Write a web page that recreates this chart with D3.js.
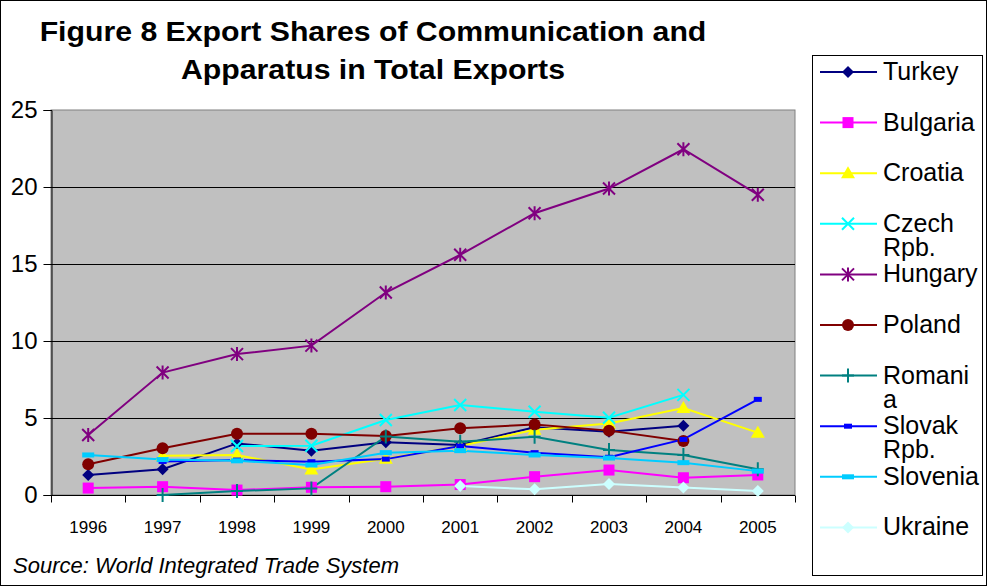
<!DOCTYPE html>
<html><head><meta charset="utf-8">
<script src="https://cdn.jsdelivr.net/npm/d3@7"></script>
<style>body{margin:0;background:#fff}svg{display:block}</style>
</head><body>
<svg id="c" width="987" height="587"></svg>
<script>
const years = ["1996","1997","1998","1999","2000","2001","2002","2003","2004","2005"];
const yTicks = [0,5,10,15,20,25];
const seriesNames = ["Turkey","Bulgaria","Croatia","Czech Rpb.","Hungary","Poland","Romania","Slovak Rpb.","Slovenia","Ukraine"];
const turkey   = [1.3,1.67,3.35,2.88,3.42,3.25,4.4,4.1,4.5,null];
const bulgaria = [0.45,0.54,0.32,0.5,0.54,0.68,1.19,1.62,1.12,1.3];
const croatia  = [null,2.55,2.6,1.65,2.35,3.18,4.24,4.65,5.65,4.05];
const czech    = [null,null,3.18,3.2,4.87,5.84,5.41,5.02,6.5,null];
const hungary  = [3.9,7.95,9.15,9.7,13.15,15.6,18.3,19.9,22.45,19.5];
const poland   = [2.0,3.03,3.98,3.98,3.83,4.33,4.58,4.18,3.51,null];
const romania  = [null,0.0,0.26,0.43,3.8,3.46,3.78,2.92,2.6,1.67];
const slovak   = [null,2.18,2.27,2.16,2.33,3.18,2.75,2.45,3.61,6.21];
const slovenia = [2.6,2.3,2.22,1.95,2.75,2.88,2.6,2.4,2.1,1.55];
const ukraine  = [null,null,null,null,null,0.58,0.37,0.71,0.48,0.26];
const seriesValues = [turkey,bulgaria,croatia,czech,hungary,poland,romania,slovak,slovenia,ukraine];
const colors = ["#000080","#FF00FF","#FFFF00","#00FFFF","#800080","#800000","#008080","#0000FF","#00CCFF","#CCFFFF"];
const markers = ["diamond","square","triangle","x","star","circle","plus","dash","wdash","diamond"];
const legendLines = [["Turkey"],["Bulgaria"],["Croatia"],["Czech","Rpb."],["Hungary"],["Poland"],["Romani","a"],["Slovak","Rpb."],["Slovenia"],["Ukraine"]];

const svg = d3.select("#c");
const L=51,R=795,T=110,B=495;
const x = d3.scaleBand().domain(years).range([L,R]).padding(0);
const y = d3.scaleLinear().domain([0,25]).range([B,T]);
const cx = d => x(d)+x.bandwidth()/2;
const FONT = "Liberation Sans, Arial, sans-serif";

svg.append("rect").attr("x",0.5).attr("y",0.5).attr("width",986).attr("height",585)
  .attr("fill","#fff").attr("stroke","#000");

// title
const title = svg.append("g").attr("transform","translate(373,0) scale(1.08,1)")
  .append("text").attr("font-family",FONT)
  .attr("font-weight","bold").attr("font-size",28).attr("text-anchor","middle").attr("fill","#000");
title.append("tspan").attr("x",0).attr("y",41).text("Figure 8 Export Shares of Communication and");
title.append("tspan").attr("x",0).attr("y",79).text("Apparatus in Total Exports");

// plot area
svg.append("rect").attr("x",L).attr("y",T).attr("width",R-L).attr("height",B-T)
  .attr("fill","#C0C0C0").attr("stroke","#808080").attr("stroke-width",1);
svg.append("g").selectAll("line").data(yTicks.filter(v=>v>0&&v<25)).join("line")
  .attr("x1",L).attr("x2",R).attr("y1",d=>Math.round(y(d))+0.5).attr("y2",d=>Math.round(y(d))+0.5)
  .attr("stroke","#000").attr("stroke-width",1);

// y axis
const ya = svg.append("g").attr("transform",`translate(${L+0.5},0)`)
  .call(d3.axisLeft(y).tickValues(yTicks).tickSize(8).tickPadding(6).tickFormat(d3.format("d")));
ya.select(".domain").attr("stroke","#000");
ya.selectAll(".tick line").attr("stroke","#000");
ya.selectAll("text").attr("font-family",FONT).attr("font-size",24).attr("fill","#000");

// x axis
const xa = svg.append("g").attr("transform",`translate(0,${B+0.5})`);
xa.append("line").attr("x1",L).attr("x2",R).attr("stroke","#000");
const bounds = d3.range(years.length+1).map(i=>L+i*x.bandwidth());
xa.selectAll("line.t").data(bounds).join("line").attr("class","t")
  .attr("x1",d=>Math.round(d)+0.5).attr("x2",d=>Math.round(d)+0.5).attr("y1",0).attr("y2",7).attr("stroke","#000");
xa.selectAll("text").data(years).join("text").attr("x",d=>cx(d)).attr("y",37)
  .attr("text-anchor","middle").attr("font-family","Liberation Sans Narrow, Arial Narrow, sans-serif")
  .attr("font-size",17).attr("fill","#000").text(d=>d);

function drawMarker(g, type, px, py, col){
  const s = 6;
  if(type==="diamond"){
    g.append("path").attr("d",`M${px},${py-s}L${px+s},${py}L${px},${py+s}L${px-s},${py}Z`).attr("fill",col);
  } else if(type==="square"){
    g.append("rect").attr("x",px-5.5).attr("y",py-5.5).attr("width",11).attr("height",11).attr("fill",col);
  } else if(type==="triangle"){
    g.append("path").attr("d",`M${px},${py-7}L${px+7},${py+5}L${px-7},${py+5}Z`).attr("fill",col);
  } else if(type==="circle"){
    g.append("circle").attr("cx",px).attr("cy",py).attr("r",6).attr("fill",col);
  } else if(type==="x"){
    g.append("path").attr("d",`M${px-6},${py-6}L${px+6},${py+6}M${px+6},${py-6}L${px-6},${py+6}`).attr("stroke",col).attr("stroke-width",2);
  } else if(type==="star"){
    g.append("path").attr("d",`M${px-6},${py-6}L${px+6},${py+6}M${px+6},${py-6}L${px-6},${py+6}M${px},${py-7}L${px},${py+7}`).attr("stroke",col).attr("stroke-width",2);
  } else if(type==="plus"){
    g.append("path").attr("d",`M${px-6},${py}L${px+6},${py}M${px},${py-7}L${px},${py+7}`).attr("stroke",col).attr("stroke-width",2);
  } else if(type==="dash"){
    g.append("rect").attr("x",px-4).attr("y",py-2.5).attr("width",8).attr("height",5).attr("fill",col);
  } else if(type==="wdash"){
    g.append("rect").attr("x",px-6).attr("y",py-2.5).attr("width",12).attr("height",5).attr("fill",col);
  }
}

const plot = svg.append("g");
seriesValues.forEach((vals,i)=>{
  const pts = years.map((yr,j)=>({yr, v:vals[j]}));
  const line = d3.line().defined(d=>d.v!==null).x(d=>cx(d.yr)).y(d=>y(d.v));
  plot.append("path").attr("d",line(pts)).attr("fill","none").attr("stroke",colors[i]).attr("stroke-width",2);
});
seriesValues.forEach((vals,i)=>{
  const g = plot.append("g");
  years.forEach((yr,j)=>{ if(vals[j]!==null) drawMarker(g, markers[i], cx(yr), y(vals[j]), colors[i]); });
});

// legend
svg.append("rect").attr("x",812.5).attr("y",55.5).attr("width",170).attr("height",520)
  .attr("fill","#fff").attr("stroke","#000");
const lg = svg.append("g");
seriesNames.forEach((n,i)=>{
  const ly = 72 + i*50.6;
  lg.append("line").attr("x1",820).attr("x2",877).attr("y1",ly).attr("y2",ly).attr("stroke",colors[i]).attr("stroke-width",2);
  drawMarker(lg, markers[i], 848, ly, colors[i]);
  const t = lg.append("text").attr("font-family",FONT).attr("font-size",25).attr("fill","#000");
  legendLines[i].forEach((ln,k)=>{
    t.append("tspan").attr("x",883).attr("y",ly+8+k*24).text(ln);
  });
});

// source
svg.append("text").attr("x",13).attr("y",573).attr("font-family",FONT)
  .attr("font-style","italic").attr("font-size",22).attr("fill","#000").text("Source: World Integrated Trade System");
</script>
</body></html>
